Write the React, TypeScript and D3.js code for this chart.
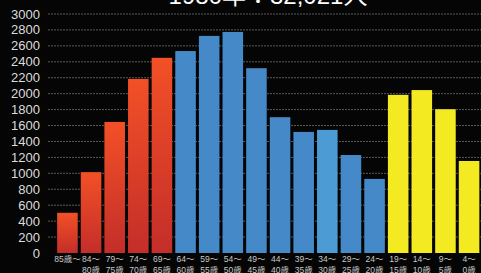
import React from "react";
import * as d3 from "d3";

const title = "1980年：32,021人";
const labelTop = ["85歳～", "84～", "79～", "74～", "69～", "64～", "59～", "54～", "49～", "44～", "39～", "34～", "29～", "24～", "19～", "14～", "9～", "4～"];
const labelBottom = ["", "80歳", "75歳", "70歳", "65歳", "60歳", "55歳", "50歳", "45歳", "40歳", "35歳", "30歳", "25歳", "20歳", "15歳", "10歳", "5歳", "0歳"];
const values = [505, 1015, 1645, 2185, 2450, 2535, 2725, 2775, 2320, 1705, 1520, 1545, 1230, 930, 1985, 2045, 1805, 1155];
const groups = ["old", "old", "old", "old", "old", "mid", "mid", "mid", "mid", "mid", "mid", "hi", "mid", "mid", "young", "young", "young", "young"];
const yTicks = [0, 200, 400, 600, 800, 1000, 1200, 1400, 1600, 1800, 2000, 2200, 2400, 2600, 2800, 3000];

const W = 481, H = 273;
const fontFamily = "'Helvetica Neue', Arial, 'Liberation Sans', 'Noto Sans CJK JP', sans-serif";

export default function App() {
  const x = d3.scaleBand<number>().domain(d3.range(values.length)).range([55.5, 481]).paddingInner(0.13).paddingOuter(0.07);
  const y = d3.scaleLinear().domain([0, 3000]).range([253, 14]);
  const fill = (g: string) =>
    g === "old" ? "url(#redGrad)" : g === "mid" ? "#4589C8" : g === "hi" ? "#4C9BD5" : "#F3EA22";
  return (
    <div style={{ position: "absolute", left: 0, top: 0, width: W, height: H, background: "#050505" }}>
      <svg width={W} height={H} style={{ display: "block" }}>
        <defs>
          <linearGradient id="redGrad" x1="0" y1="0" x2="0" y2="1">
            <stop offset="0%" stopColor="#F25026" />
            <stop offset="100%" stopColor="#C42E2A" />
          </linearGradient>
        </defs>
        <rect x={0} y={0} width={W} height={H} fill="#050505" />
        <text x={268} y={4} fill="#fff" fontSize={24} textAnchor="middle" fontFamily={fontFamily}>{title}</text>
        {yTicks.map((t) => (
          <g key={t}>
            {t > 0 && (
              <line x1={48} x2={W} y1={y(t)} y2={y(t)} stroke="#5a5a5a" strokeWidth={1} strokeDasharray="2,1" />
            )}
            <text x={40} y={y(t)} dy="0.35em" fill="#dcdcdc" fontSize={13} textAnchor="end" fontFamily={fontFamily}>{t}</text>
          </g>
        ))}
        {values.map((v, i) => (
          <rect key={i} x={x(i)} y={y(v)} width={x.bandwidth()} height={y(0) - y(v)} fill={fill(groups[i])} />
        ))}
        {values.map((_, i) => (
          <g key={"l" + i} fontFamily={fontFamily} fontSize={8.5} fill="#c8c8c8" textAnchor="middle">
            <text x={(x(i) as number) + x.bandwidth() / 2} y={262}>{labelTop[i]}</text>
            <text x={(x(i) as number) + x.bandwidth() / 2} y={273}>{labelBottom[i]}</text>
          </g>
        ))}
      </svg>
    </div>
  );
}
